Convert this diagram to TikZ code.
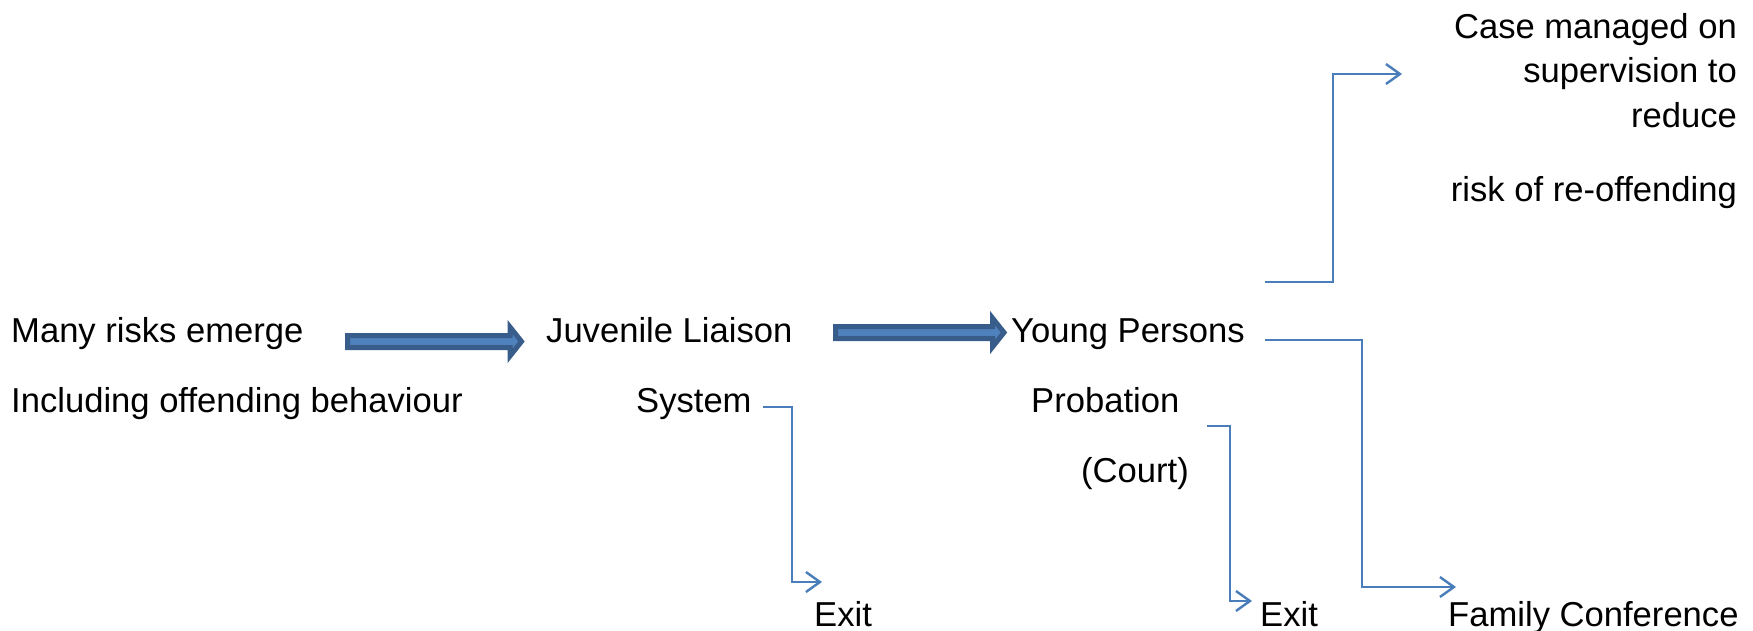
\documentclass[tikz,border=0pt]{standalone}
\usepackage{fontspec}
\setmainfont{Liberation Sans}
\usetikzlibrary{arrows.meta}
\definecolor{arrowfill}{HTML}{4F81BD}
\definecolor{arrowline}{HTML}{385D8A}
\definecolor{connblue}{HTML}{4A7EBB}
\begin{document}
\begin{tikzpicture}[x=1pt,y=-1pt,
  lbl/.style={inner sep=0pt,font=\fontsize{34.6}{42}\selectfont},
  blockarrow/.style={fill=arrowfill,draw=arrowline,line width=5pt,line join=miter},
  conn/.style={draw=connblue,line width=2.4pt,-{Straight Barb[length=14pt,width=20pt,line width=2.4pt]}}]
\useasboundingbox (0,0) rectangle (1753,631);
% texts
\node[lbl,anchor=base west] (many) at (11,342) {Many risks emerge};
\node[lbl,anchor=base west] (incl) at (11,412) {Including offending behaviour};
\node[lbl,anchor=base west] (jl) at (546,342) {Juvenile Liaison};
\node[lbl,anchor=base west] (sys) at (636,412) {System};
\node[lbl,anchor=base west] (yp) at (1011,342) {Young Persons};
\node[lbl,anchor=base west] (prob) at (1031,412) {Probation};
\node[lbl,anchor=base west] (court) at (1081,482) {(Court)};
\node[lbl,anchor=base west] (exit1) at (814,626) {Exit};
\node[lbl,anchor=base west] (exit2) at (1260,626) {Exit};
\node[lbl,anchor=base west] (fam) at (1448,626) {Family Conference};
\node[lbl,anchor=base east] (case1) at (1737,39) {Case managed on};
\node[lbl,anchor=base east] (case2) at (1737,83) {supervision to};
\node[lbl,anchor=base east] (case3) at (1737,128) {reduce};
\node[lbl,anchor=base east] (case4) at (1737,201) {risk of re-offending};
% block arrows
\draw[blockarrow] (347.5,335.5) -- (510,335.5) -- (510,327) -- (521.5,341.5) -- (510,356) -- (510,347.5) -- (347.5,347.5) -- cycle;
\draw[blockarrow] (835.5,326.5) -- (992.5,326.5) -- (992.5,318) -- (1004,332.5) -- (992.5,347) -- (992.5,338.5) -- (835.5,338.5) -- cycle;
% connectors
\coordinate (s1) at (763,407);
\coordinate (e1) at (822,582);
\draw[conn] (s1) -| (792,582) -- (e1);
\coordinate (s2) at (1207,426);
\coordinate (e2) at (1252,601);
\draw[conn] (s2) -| (1230,601) -- (e2);
\coordinate (s3) at (1265,340);
\coordinate (e3) at (1456,587);
\draw[conn] (s3) -| (1362,587) -- (e3);
\coordinate (s4) at (1265,282);
\coordinate (e4) at (1402,74);
\draw[conn] (s4) -| (1333,74) -- (e4);
\end{tikzpicture}
\end{document}
